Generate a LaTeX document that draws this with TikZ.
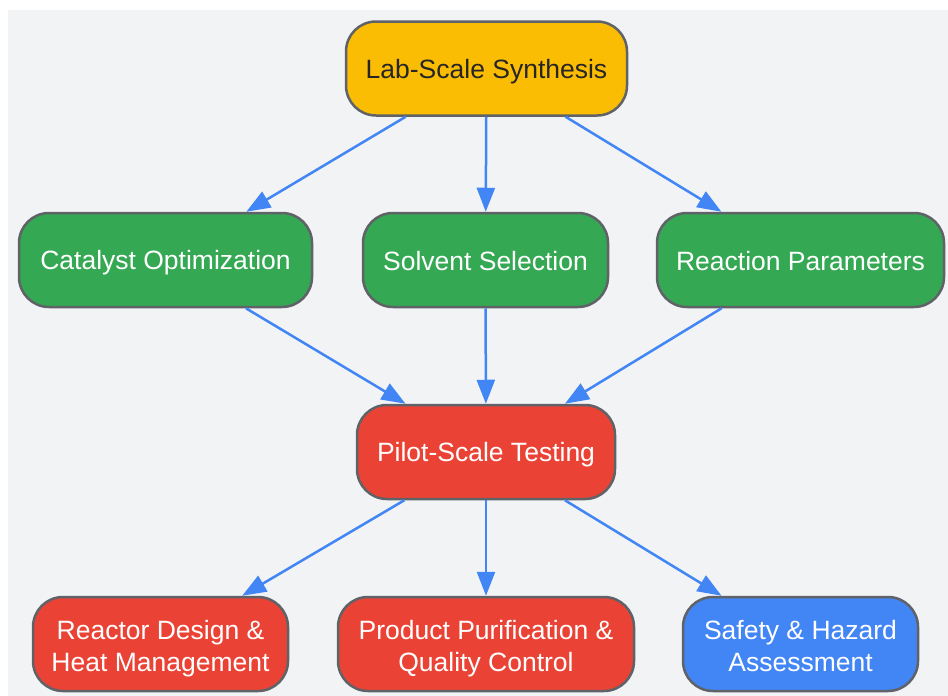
\documentclass[tikz,border=0pt]{standalone}
\usepackage{fontspec}
\setmainfont{Liberation Sans}
\usetikzlibrary{arrows.meta}

\definecolor{bggray}{HTML}{F1F3F5}
\definecolor{edgegray}{HTML}{5F6368}
\definecolor{labyellow}{HTML}{FBBC04}
\definecolor{stepgreen}{HTML}{34A853}
\definecolor{stepred}{HTML}{EA4335}
\definecolor{stepblue}{HTML}{4285F4}
\definecolor{flowblue}{HTML}{4285F4}

\newcommand{\boxstrut}{\rule[-4pt]{0pt}{29pt}}

\tikzset{
  box/.style={draw=edgegray, line width=2.5pt, rounded corners=30pt,
    minimum height=94pt, inner sep=0pt, text=white, align=center,
    font=\fontsize{26.5}{32}\selectfont},
  oneline/.style={box, execute at begin node=\boxstrut, execute at end node=\boxstrut},
  twoline/.style={box, text height=61pt, text depth=7pt},
  flow/.style={draw=flowblue, line width=2.5pt, -{Triangle[length=24pt,width=18pt]}}
}

\begin{document}
\begin{tikzpicture}[x=1pt,y=-1pt]
                \useasboundingbox (0,0) rectangle (948,696);
                \fill [bggray] (8,10) rectangle (948,696);
                % top
                \node [oneline, fill=labyellow, text=black!85, minimum width=281pt] (lab) at (486.5,68.5) {Lab-Scale Synthesis};
                % second row
                \node [oneline, fill=stepgreen, minimum width=293pt] (catalyst) at (165.5,260) {Catalyst Optimization};
                \node [oneline, fill=stepgreen, minimum width=245pt] (solvent) at (485.5,260) {Solvent Selection};
                \node [oneline, fill=stepgreen, minimum width=287pt] (params) at (800.5,260) {Reaction Parameters};
                % pilot
                \node [oneline, fill=stepred, minimum width=258pt] (pilot) at (486,452) {Pilot-Scale Testing};
                % bottom row
                \node [twoline, fill=stepred, minimum width=255pt] (reactor) at (160.5,644) {Reactor Design \&\\Heat Management};
                \node [twoline, fill=stepred, minimum width=296pt] (purify) at (486,644) {Product Purification \&\\Quality Control};
                \node [twoline, fill=stepblue, minimum width=235pt] (safety) at (800.5,644) {Safety \& Hazard\\Assessment};
                % connectors
                \draw [flow] (lab) -- (catalyst);
                \draw [flow] (lab) -- (solvent);
                \draw [flow] (lab) -- (params);
                \draw [flow] (catalyst) -- (pilot);
                \draw [flow] (solvent) -- (pilot);
                \draw [flow] (params) -- (pilot);
                \draw [flow] (pilot) -- (reactor);
                \draw [flow] (pilot) -- (purify);
                \draw [flow] (pilot) -- (safety);
\end{tikzpicture}
\end{document}
